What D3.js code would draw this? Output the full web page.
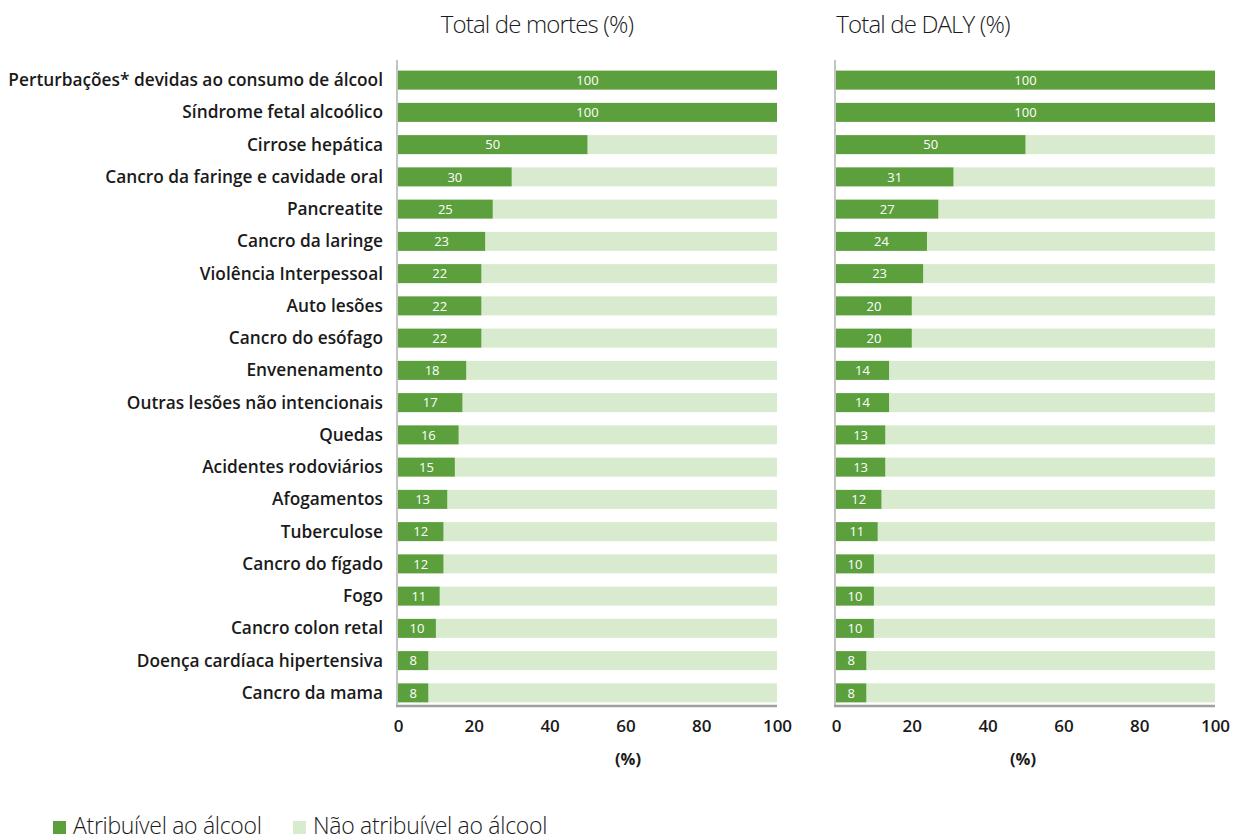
<!DOCTYPE html>
<html>
<head>
<meta charset="utf-8">
<script src="https://cdn.jsdelivr.net/npm/d3@7"></script>
<style>
  html, body { margin: 0; padding: 0; background: #fff; }
  svg { display: block; font-family: "Open Sans", sans-serif; }
</style>
</head>
<body>
<svg id="chart" width="1236" height="840"></svg>
<script>
// Causes of death / disease, top to bottom
const categories = [
  "Perturbações* devidas ao consumo de álcool",
  "Síndrome fetal alcoólico",
  "Cirrose hepática",
  "Cancro da faringe e cavidade oral",
  "Pancreatite",
  "Cancro da laringe",
  "Violência Interpessoal",
  "Auto lesões",
  "Cancro do esófago",
  "Envenenamento",
  "Outras lesões não intencionais",
  "Quedas",
  "Acidentes rodoviários",
  "Afogamentos",
  "Tuberculose",
  "Cancro do fígado",
  "Fogo",
  "Cancro colon retal",
  "Doença cardíaca hipertensiva",
  "Cancro da mama"
];

// Share attributable to alcohol (%)
const deathsValues = [100, 100, 50, 30, 25, 23, 22, 22, 22, 18, 17, 16, 15, 13, 12, 12, 11, 10, 8, 8];
const dalyValues   = [100, 100, 50, 31, 27, 24, 23, 20, 20, 14, 14, 13, 13, 12, 11, 10, 10, 10, 8, 8];

const panelTitles = ["Total de mortes (%)", "Total de DALY (%)"];
const tickValues = [0, 20, 40, 60, 80, 100];
const axisTitle = "(%)";
const legendLabels = ["Atribuível ao álcool", "Não atribuível ao álcool"];

const colorAttr = "#5c9f3d";
const colorRest = "#d9ebcf";

const svg = d3.select("#chart");

const y = d3.scaleBand()
  .domain(categories)
  .range([64, 709])
  .paddingInner(0.41)
  .paddingOuter(0.205);

// Category labels
svg.append("g")
  .selectAll("text")
  .data(categories)
  .join("text")
  .attr("x", 383)
  .attr("y", d => y(d) + y.bandwidth() / 2)
  .attr("dy", "0.35em")
  .attr("text-anchor", "end")
  .attr("font-size", 17.3)
  .attr("font-weight", 600)
  .attr("fill", "#1a1a1a")
  .text(d => d);

const panels = [
  { values: deathsValues, title: panelTitles[0], x0: 398, x1: 777, titleX: 537, unitX: 628 },
  { values: dalyValues,   title: panelTitles[1], x0: 836, x1: 1215, titleX: 923, unitX: 1023 }
];

panels.forEach(p => {
  const x = d3.scaleLinear().domain([0, 100]).range([p.x0, p.x1]);
  const g = svg.append("g");

  // Panel title
  g.append("text")
    .attr("x", p.titleX)
    .attr("y", 33)
    .attr("text-anchor", "middle")
    .attr("font-size", 24)
    .attr("font-weight", 300)
    .attr("letter-spacing", -0.85)
    .attr("fill", "#1a1a1a")
    .text(p.title);

  const rows = categories.map((c, i) => ({ c, v: p.values[i] }));

  // Remaining share (background track)
  g.selectAll("rect.rest")
    .data(rows)
    .join("rect")
    .attr("class", "rest")
    .attr("x", d => x(d.v))
    .attr("y", d => y(d.c))
    .attr("width", d => x(100) - x(d.v))
    .attr("height", y.bandwidth())
    .attr("fill", colorRest);

  // Attributable share
  g.selectAll("rect.attr")
    .data(rows)
    .join("rect")
    .attr("class", "attr")
    .attr("x", x(0))
    .attr("y", d => y(d.c))
    .attr("width", d => x(d.v) - x(0))
    .attr("height", y.bandwidth())
    .attr("fill", colorAttr);

  // Value labels
  g.selectAll("text.val")
    .data(rows)
    .join("text")
    .attr("class", "val")
    .attr("x", d => (x(0) + x(d.v)) / 2)
    .attr("y", d => y(d.c) + y.bandwidth() / 2)
    .attr("dy", "0.37em")
    .attr("text-anchor", "middle")
    .attr("font-size", 13)
    .attr("font-weight", 500)
    .attr("fill", "#ffffff")
    .text(d => d.v);

  // Vertical axis line
  g.append("line")
    .attr("x1", p.x0 - 1).attr("x2", p.x0 - 1)
    .attr("y1", 60).attr("y2", 706)
    .attr("stroke", "#c4c4c4")
    .attr("stroke-width", 2);

  // Bottom axis
  const axis = d3.axisBottom(x).tickValues(tickValues).tickSize(0).tickPadding(14);
  const ag = g.append("g").attr("transform", "translate(0,706)").call(axis);
  ag.select(".domain")
    .attr("d", `M${p.x0 - 2},0H${p.x1}`)
    .attr("stroke", "#a0a0a0")
    .attr("stroke-width", 2.5);
  ag.selectAll("text")
    .attr("font-family", "'Open Sans', sans-serif")
    .attr("font-size", 17)
    .attr("font-weight", 600)
    .attr("fill", "#1a1a1a");

  g.append("text")
    .attr("x", p.unitX)
    .attr("y", 765)
    .attr("text-anchor", "middle")
    .attr("font-size", 16.5)
    .attr("font-weight", 700)
    .attr("fill", "#1a1a1a")
    .text(axisTitle);
});

// Legend
const legend = svg.append("g").attr("transform", "translate(53,821)");
const legendItems = [
  { label: legendLabels[0], color: colorAttr, x: 0 },
  { label: legendLabels[1], color: colorRest, x: 240 }
];
legendItems.forEach(it => {
  legend.append("rect")
    .attr("x", it.x).attr("y", 0)
    .attr("width", 13).attr("height", 13)
    .attr("fill", it.color);
  legend.append("text")
    .attr("x", it.x + 20)
    .attr("y", 13)
    .attr("font-size", 23)
    .attr("font-weight", 300)
    .attr("letter-spacing", -0.3)
    .attr("fill", "#1a1a1a")
    .text(it.label);
});
</script>
</body>
</html>
